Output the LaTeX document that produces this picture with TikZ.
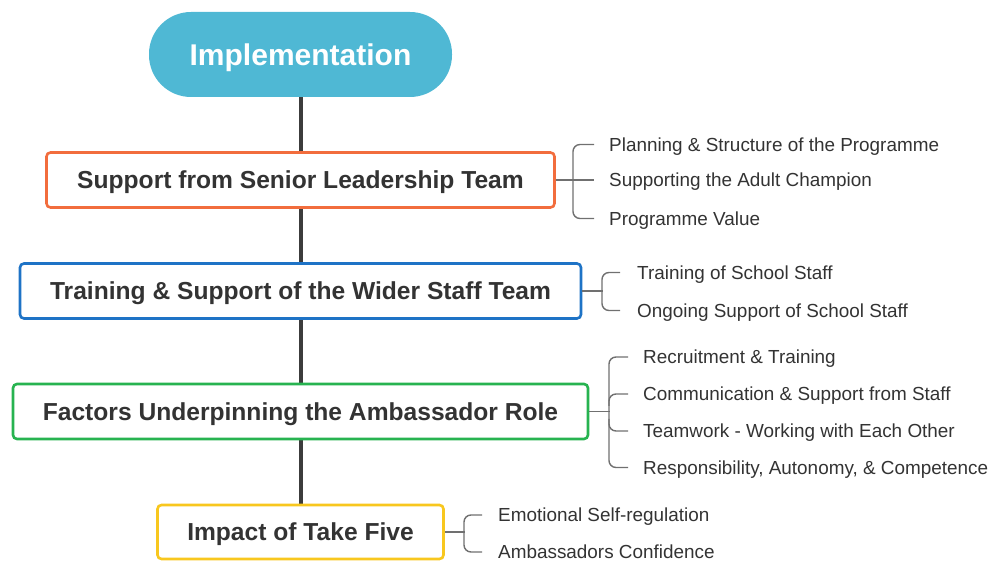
\documentclass[tikz,border=0pt]{standalone}
\usepackage{fontspec}
\setmainfont{Liberation Sans}
\usetikzlibrary{backgrounds}
\definecolor{rootc}{HTML}{4FB8D4}
\definecolor{orangec}{HTML}{F26D3D}
\definecolor{bluec}{HTML}{1E73C6}
\definecolor{greenc}{HTML}{27B350}
\definecolor{yellowc}{HTML}{F8C71E}
\definecolor{txt}{HTML}{333333}
\definecolor{brc}{HTML}{707070}
\definecolor{stemc}{HTML}{3C3C3C}
\begin{document}
\begin{tikzpicture}[x=1pt,y=-1pt,
  topic/.style={draw, line width=2.6pt, rounded corners=4pt, fill=white,
    minimum height=55pt, inner sep=0pt, text=txt, text height=17.6pt, text depth=0pt,
    font=\fontsize{24.6}{28}\selectfont\bfseries},
  leaf/.style={anchor=west, inner sep=0pt, text=txt, text height=13.5pt, text depth=0pt,
    font=\fontsize{18.9}{22}\selectfont},
  brace/.style={draw=brc, line width=1.4pt, rounded corners=7pt},
  stem/.style={draw=stemc, line width=4pt}]
\useasboundingbox (0,0) rectangle (989,561);

% central topic
\node[fill=rootc, rounded corners=42pt, minimum width=303pt, minimum height=85pt,
  inner sep=0pt, text=white, text height=21.5pt, text depth=0pt,
  font=\fontsize{30}{34}\selectfont\bfseries]
  (root) at (300.5,54.5) {Implementation};

% main topics
\node[topic, draw=orangec, minimum width=508pt] (b1) at (300.5,180) {Support from Senior Leadership Team};
\node[topic, draw=bluec, minimum width=561pt] (b2) at (300.5,291) {Training \& Support of the Wider Staff Team};
\node[topic, draw=greenc, minimum width=575pt] (b3) at (300.5,411.5) {Factors Underpinning the Ambassador Role};
\node[topic, draw=yellowc, minimum width=286pt, minimum height=54pt] (b4) at (300.5,532) {Impact of Take Five};

% vertical stem behind the topics
\begin{scope}[on background layer]
\draw[stem] (root.south) -- (b4.north);
\end{scope}

% subtopics
\node[leaf] (l11) at (609,144.5) {Planning \& Structure of the Programme};
\node[leaf] (l12) at (609,180) {Supporting the Adult Champion};
\node[leaf] (l13) at (609,218.5) {Programme Value};

\node[leaf] (l21) at (637,272.5) {Training of School Staff};
\node[leaf] (l22) at (637,310.5) {Ongoing Support of School Staff};

\node[leaf] (l31) at (643,357) {Recruitment \& Training};
\node[leaf] (l32) at (643,394) {Communication \& Support from Staff};
\node[leaf] (l33) at (643,431) {Teamwork - Working with Each Other};
\node[leaf] (l34) at (643,467.5) {Responsibility, Autonomy, \& Competence};

\node[leaf] (l41) at (498,515) {Emotional Self-regulation};
\node[leaf] (l42) at (498,552) {Ambassadors Confidence};

% brackets: group 1
\draw[brace] ([xshift=-15pt]l11.west) -- ++(-21,0) |- ([xshift=-15pt]l13.west);
\draw[brace] (b1.east) -- ([xshift=-15pt]l12.west |- b1.east);

% group 2
\draw[brace] ([xshift=-17pt]l21.west) -- ++(-18,0) |- ([xshift=-17pt]l22.west);
\draw[brace] (b2.east) -- ++(21,0);

% group 3
\draw[brace] ([xshift=-15pt]l31.west) -- ++(-19,0) |- ([xshift=-15pt]l34.west);
\draw[brace] ([xshift=-34pt]l32.west) ++(0,12) -- ([xshift=-34pt]l32.west) -- ([xshift=-15pt]l32.west);
\draw[brace] ([xshift=-34pt]l33.west) ++(0,-12) -- ([xshift=-34pt]l33.west) -- ([xshift=-15pt]l33.west);
\draw[brace] (b3.east) -- ++(21,0);

% group 4
\draw[brace] ([xshift=-16pt]l41.west) -- ++(-18,0) |- ([xshift=-16pt]l42.west);
\draw[brace] (b4.east) -- ++(20,0);
\end{tikzpicture}
\end{document}
